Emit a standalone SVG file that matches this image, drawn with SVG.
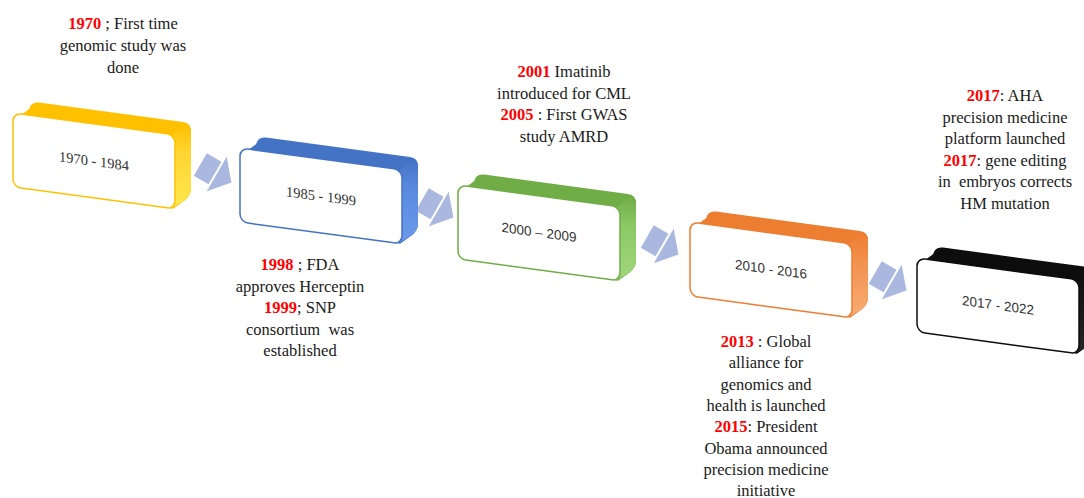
<svg xmlns="http://www.w3.org/2000/svg" width="1084" height="498" viewBox="0 0 1084 498">
<style>
.ann{font-family:"Liberation Serif","Times New Roman","DejaVu Serif",serif;font-size:16.5px;fill:#1a1a1a;text-anchor:middle}
.yr{fill:#FF0000;font-weight:bold}
.bt{font-family:"Liberation Serif","Times New Roman","DejaVu Serif",serif;font-size:14.5px;fill:#333;text-anchor:middle}
.bs{font-family:"Liberation Sans",Arial,sans-serif;font-size:13.5px;fill:#333;text-anchor:middle}
.front{fill:#fff;stroke-width:1.5}
.arrow{fill:#AAB8E0}
</style>
<defs>
<linearGradient id="gy" x1="0" y1="0" x2="0" y2="1"><stop offset="0" stop-color="#FFC000"/><stop offset="0.35" stop-color="#FFD633"/><stop offset="1" stop-color="#FFE94F"/></linearGradient>
<linearGradient id="gb" x1="0" y1="0" x2="0" y2="1"><stop offset="0" stop-color="#4472C4"/><stop offset="0.35" stop-color="#5A8AE0"/><stop offset="1" stop-color="#6C9BEA"/></linearGradient>
<linearGradient id="gg" x1="0" y1="0" x2="0" y2="1"><stop offset="0" stop-color="#70AD47"/><stop offset="0.35" stop-color="#8CC864"/><stop offset="1" stop-color="#A2D87E"/></linearGradient>
<linearGradient id="go" x1="0" y1="0" x2="0" y2="1"><stop offset="0" stop-color="#ED7D31"/><stop offset="0.35" stop-color="#F39250"/><stop offset="1" stop-color="#F8AE74"/></linearGradient>
<linearGradient id="gk" x1="0" y1="0" x2="0" y2="1"><stop offset="0" stop-color="#0d0d0d"/><stop offset="1" stop-color="#262626"/></linearGradient>
<path id="sil" d="M 0 8 L 16 -6 Q 18 -14 26 -14 L 170 -14 Q 178 -14 178 -6 L 178 52 Q 178 58 172 64 L 160 74 L 8 74 Z"/>
<path id="side" d="M 158 2 L 172 -12 Q 178 -12 178 -4 L 178 52 Q 178 58 172 64 L 158 74 Z"/>
<g id="arr">
<polygon class="arrow" points="-17,-13 1,-13 1,-21 19,0 1,21 1,13 -17,13"/>
<line x1="1" y1="-21" x2="1" y2="21" stroke="#fff" stroke-width="2"/>
</g>
</defs>

<g id="connectors">
<use href="#arr" transform="translate(215,173) rotate(30)"/>
<use href="#arr" transform="translate(437,208) rotate(30)"/>
<use href="#arr" transform="translate(662,245) rotate(30)"/>
<use href="#arr" transform="translate(890,281) rotate(30)"/>
</g>

<g id="box1" transform="translate(13,113) skewY(7.7)">
<use href="#sil" fill="#FFC000"/>
<use href="#side" fill="url(#gy)"/>
<rect class="front" x="0" y="0" width="162" height="74" rx="8" stroke="#FFC000"/>
<text class="bt" x="81" y="42">1970 - 1984</text>
</g>

<g id="box2" transform="translate(240,148) skewY(7.7)">
<use href="#sil" fill="#4472C4"/>
<use href="#side" fill="url(#gb)"/>
<rect class="front" x="0" y="0" width="162" height="74" rx="8" stroke="#4472C4"/>
<text class="bt" x="81" y="42">1985 - 1999</text>
</g>

<g id="box3" transform="translate(458,185) skewY(7.7)">
<use href="#sil" fill="#70AD47"/>
<use href="#side" fill="url(#gg)"/>
<rect class="front" x="0" y="0" width="162" height="74" rx="8" stroke="#70AD47"/>
<text class="bs" x="81" y="41">2000 – 2009</text>
</g>

<g id="box4" transform="translate(690,222) skewY(7.7)">
<use href="#sil" fill="#ED7D31"/>
<use href="#side" fill="url(#go)"/>
<rect class="front" x="0" y="0" width="162" height="74" rx="8" stroke="#ED7D31"/>
<text class="bs" x="81" y="41">2010 - 2016</text>
</g>

<g id="box5" transform="translate(917,258) skewY(7.7)">
<use href="#sil" fill="#0d0d0d"/>
<use href="#side" fill="url(#gk)"/>
<rect class="front" x="0" y="0" width="162" height="74" rx="8" stroke="#0d0d0d"/>
<text class="bs" x="81" y="41">2017 - 2022</text>
</g>

<g id="note1">
<text class="ann" x="123" y="29"><tspan class="yr">1970</tspan> ; First time</text>
<text class="ann" x="123" y="51">genomic study was</text>
<text class="ann" x="123" y="73">done</text>
</g>

<g id="note2">
<text class="ann" x="300" y="270"><tspan class="yr">1998</tspan> ; FDA</text>
<text class="ann" x="300" y="291.5">approves Herceptin</text>
<text class="ann" x="300" y="313"><tspan class="yr">1999</tspan>; SNP</text>
<text class="ann" x="300" y="334.5" xml:space="preserve">consortium  was</text>
<text class="ann" x="300" y="356">established</text>
</g>

<g id="note3">
<text class="ann" x="564" y="77"><tspan class="yr">2001</tspan> Imatinib</text>
<text class="ann" x="564" y="98.5">introduced for CML</text>
<text class="ann" x="564" y="120"><tspan class="yr">2005</tspan> : First GWAS</text>
<text class="ann" x="564" y="141.5">study AMRD</text>
</g>

<g id="note4">
<text class="ann" x="766" y="347"><tspan class="yr">2013</tspan> : Global</text>
<text class="ann" x="766" y="368.3">alliance for</text>
<text class="ann" x="766" y="389.6">genomics and</text>
<text class="ann" x="766" y="410.9">health is launched</text>
<text class="ann" x="766" y="432.2"><tspan class="yr">2015</tspan>: President</text>
<text class="ann" x="766" y="453.5">Obama announced</text>
<text class="ann" x="766" y="474.8">precision medicine</text>
<text class="ann" x="766" y="496.1">initiative</text>
</g>

<g id="note5">
<text class="ann" x="1005" y="101"><tspan class="yr">2017</tspan>: AHA</text>
<text class="ann" x="1005" y="122.5">precision medicine</text>
<text class="ann" x="1005" y="144">platform launched</text>
<text class="ann" x="1005" y="165.5"><tspan class="yr">2017</tspan>: gene editing</text>
<text class="ann" x="1005" y="187" xml:space="preserve">in  embryos corrects</text>
<text class="ann" x="1005" y="208.5">HM mutation</text>
</g>
</svg>
